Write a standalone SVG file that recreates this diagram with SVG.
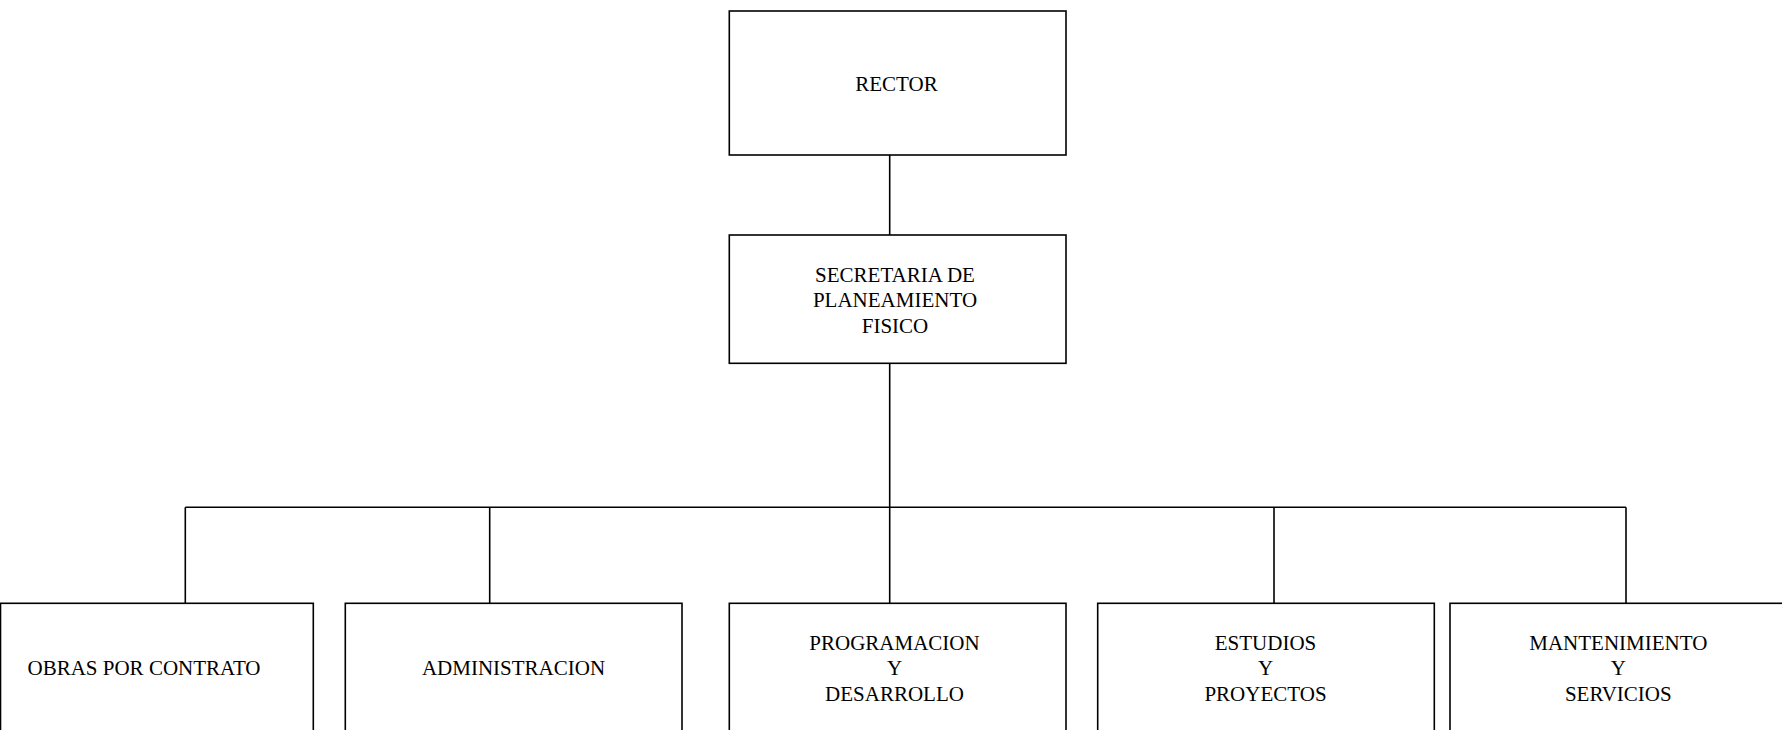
<svg xmlns="http://www.w3.org/2000/svg" width="1782" height="730" viewBox="0 0 1782 730">
<style>
.box{fill:#fff;stroke:#000;stroke-width:1.6}
.ln{fill:none;stroke:#000;stroke-width:1.6}
text{font-family:"Liberation Serif","Times New Roman",serif;font-size:21px;fill:#000;text-anchor:middle}
</style>
<rect width="1782" height="730" fill="#fff"/>
<g id="connectors">
<line class="ln" x1="889.7" y1="155" x2="889.7" y2="235"/>
<line class="ln" x1="889.7" y1="363.3" x2="889.7" y2="603.3"/>
<line class="ln" x1="185.3" y1="507.3" x2="1626" y2="507.3"/>
<line class="ln" x1="185.3" y1="507.3" x2="185.3" y2="603.3"/>
<line class="ln" x1="489.7" y1="507.3" x2="489.7" y2="603.3"/>
<line class="ln" x1="1274" y1="507.3" x2="1274" y2="603.3"/>
<line class="ln" x1="1626" y1="507.3" x2="1626" y2="603.3"/>
</g>
<g id="rector">
<rect class="box" x="729.3" y="11" width="336.7" height="144"/>
<text x="896.5" y="90.7">RECTOR</text>
</g>
<g id="secretaria">
<rect class="box" x="729.3" y="235" width="336.7" height="128.3"/>
<text x="895" y="281.7">SECRETARIA DE</text>
<text x="895" y="307.2">PLANEAMIENTO</text>
<text x="895" y="332.7">FISICO</text>
</g>
<g id="obras">
<rect class="box" x="0.5" y="603.3" width="312.8" height="140"/>
<text x="144" y="675">OBRAS POR CONTRATO</text>
</g>
<g id="administracion">
<rect class="box" x="345.3" y="603.3" width="336.7" height="140"/>
<text x="513.5" y="675">ADMINISTRACION</text>
</g>
<g id="programacion">
<rect class="box" x="729.3" y="603.3" width="336.7" height="140"/>
<text x="894.5" y="649.5">PROGRAMACION</text>
<text x="894.5" y="675.3">Y</text>
<text x="894.5" y="701">DESARROLLO</text>
</g>
<g id="estudios">
<rect class="box" x="1097.7" y="603.3" width="336.6" height="140"/>
<text x="1265.5" y="649.5">ESTUDIOS</text>
<text x="1265.5" y="675.3">Y</text>
<text x="1265.5" y="701">PROYECTOS</text>
</g>
<g id="mantenimiento">
<rect class="box" x="1450" y="603.3" width="337" height="140"/>
<text x="1618.3" y="649.5">MANTENIMIENTO</text>
<text x="1618.3" y="675.3">Y</text>
<text x="1618.3" y="701">SERVICIOS</text>
</g>
</svg>
